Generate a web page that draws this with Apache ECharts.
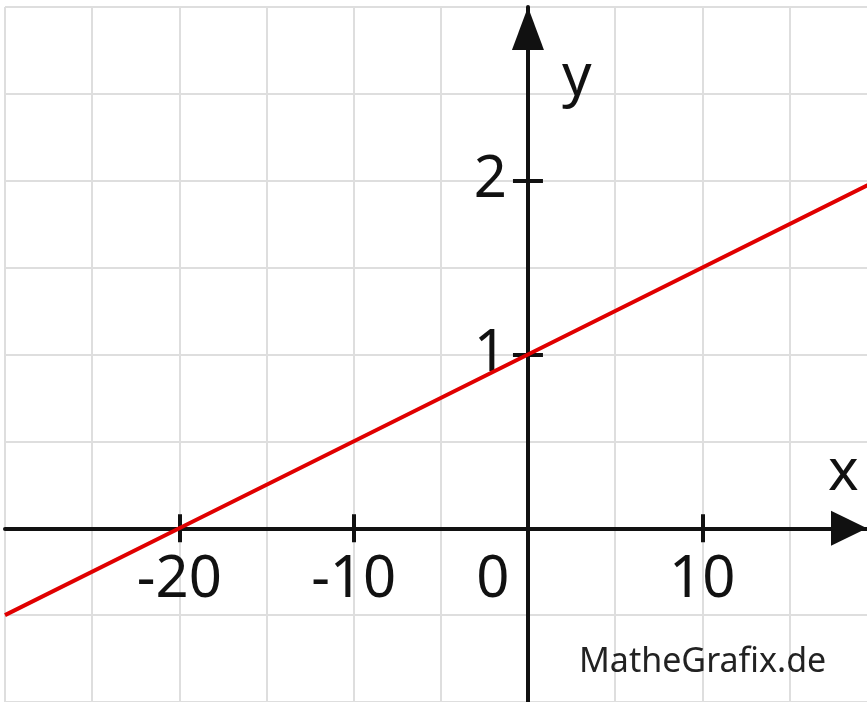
<!DOCTYPE html>
<html>
<head>
<meta charset="utf-8">
<script src="https://cdn.jsdelivr.net/npm/echarts@6/dist/echarts.min.js"></script>
<style>
  html, body { margin: 0; padding: 0; background: #fff; }
  #chart { width: 867px; height: 702px; }
</style>
</head>
<body>
<div id="chart"></div>
<script>
// visible window of the plot
var xMin = -30, xMax = 20, yMin = -1, yMax = 3
// ticks and labels on the axes
var xTicks = [-20, -10, 10]
var xLabels = [-20, -10, 0, 10]
var yTicks = [1, 2]
var yLabels = [1, 2]
// the red line y = x/20 + 1, read at a few points
var lineX = [-30, -20, 0, 20]
var lineY = [-0.5, 0, 1, 2]

var lineData = []
for (var i = 0; i < lineX.length; i++) {
  lineData.push([lineX[i], lineY[i]])
}

var font = 'Noto Sans'
var black = '#111'

// grid box in pixels (the plot runs a bit past the right edge of the picture)
var W = 867, H = 702
var gLeft = 5, gTop = 7, gRight = -9.6, gBottom = 0
var gW = W - gLeft - gRight, gH = H - gTop - gBottom
// move the axes from the grid edges onto the zero lines
var xOffset = -(gH * (0 - yMin) / (yMax - yMin))
var yOffset = -(gW * (0 - xMin) / (xMax - xMin))

var chart = echarts.init(document.getElementById('chart'))

// x axis with ticks below and labels; a twin draws the tick part above the line
function xMain (inside) {
  return {
    type: 'value', min: xMin, max: xMax, interval: 10, position: 'bottom', offset: xOffset,
    axisLine: {
      show: !inside, onZero: false,
      lineStyle: { color: black, width: 4 },
      symbol: ['none', 'triangle'], symbolSize: [35, 36], symbolOffset: [0, -27.6]
    },
    axisTick: { show: true, inside: inside, length: 14, customValues: xTicks, lineStyle: { color: black, width: 4 } },
    axisLabel: {
      show: !inside, margin: 23, hideOverlap: false,
      fontFamily: font, fontSize: 58, color: black,
      formatter: function (v) {
        if (xLabels.indexOf(v) < 0) return ''
        return v === 0 ? '{z|0}' : String(v)
      },
      rich: { z: { fontFamily: font, fontSize: 58, color: black, padding: [0, 70, 0, 0] } }
    },
    splitLine: { show: false }
  }
}

function yMain (inside) {
  return {
    type: 'value', min: yMin, max: yMax, interval: 1, position: 'left', offset: yOffset,
    axisLine: {
      show: !inside, onZero: false,
      lineStyle: { color: black, width: 4 },
      symbol: ['none', 'triangle'], symbolSize: [32, 43], symbolOffset: [0, -21.5]
    },
    axisTick: { show: true, inside: inside, length: 15, customValues: yTicks, lineStyle: { color: black, width: 4 } },
    axisLabel: {
      show: !inside, margin: 21, hideOverlap: false, fontFamily: font, fontSize: 58, color: black,
      formatter: function (v) { return yLabels.indexOf(v) < 0 ? '' : String(v) }
    },
    name: inside ? '' : 'y', nameLocation: 'end', nameGap: -71, nameMoveOverlap: false,
    nameTextStyle: { fontFamily: font, fontSize: 58, color: black, align: 'left', verticalAlign: 'middle', padding: [0, 0, 0, 34] },
    splitLine: { show: false }
  }
}

var option = {
  animation: false,
  backgroundColor: '#fff',
  title: [
    {
      text: 'MatheGrafix.de', left: 574, top: 640,
      textStyle: { fontFamily: font, fontSize: 34, fontWeight: 'normal', color: '#222' }
    },
    {
      // name of the x axis, above the arrow
      text: 'x', left: 828, top: 444, padding: 0,
      textStyle: { fontFamily: font, fontSize: 58, fontWeight: 'normal', color: black }
    }
  ],
  grid: { left: gLeft, right: gRight, top: gTop, bottom: gBottom, containLabel: false, outerBoundsMode: 'none' },
  xAxis: [
    {
      type: 'value', min: xMin, max: xMax, interval: 5,
      axisLine: { show: false }, axisTick: { show: false }, axisLabel: { show: false },
      splitLine: { show: true, lineStyle: { color: '#dedede', width: 2 } }
    },
    xMain(false),
    xMain(true)
  ],
  yAxis: [
    {
      type: 'value', min: yMin, max: yMax, interval: 0.5,
      axisLine: { show: false }, axisTick: { show: false }, axisLabel: { show: false },
      splitLine: { show: true, lineStyle: { color: '#dedede', width: 2 } }
    },
    yMain(false),
    yMain(true)
  ],
  series: [
    {
      type: 'line', xAxisIndex: 1, yAxisIndex: 1,
      data: lineData, showSymbol: false, clip: true, z: 1,
      lineStyle: { color: '#e00000', width: 4 }
    }
  ]
}

chart.setOption(option)
</script>
</body>
</html>
